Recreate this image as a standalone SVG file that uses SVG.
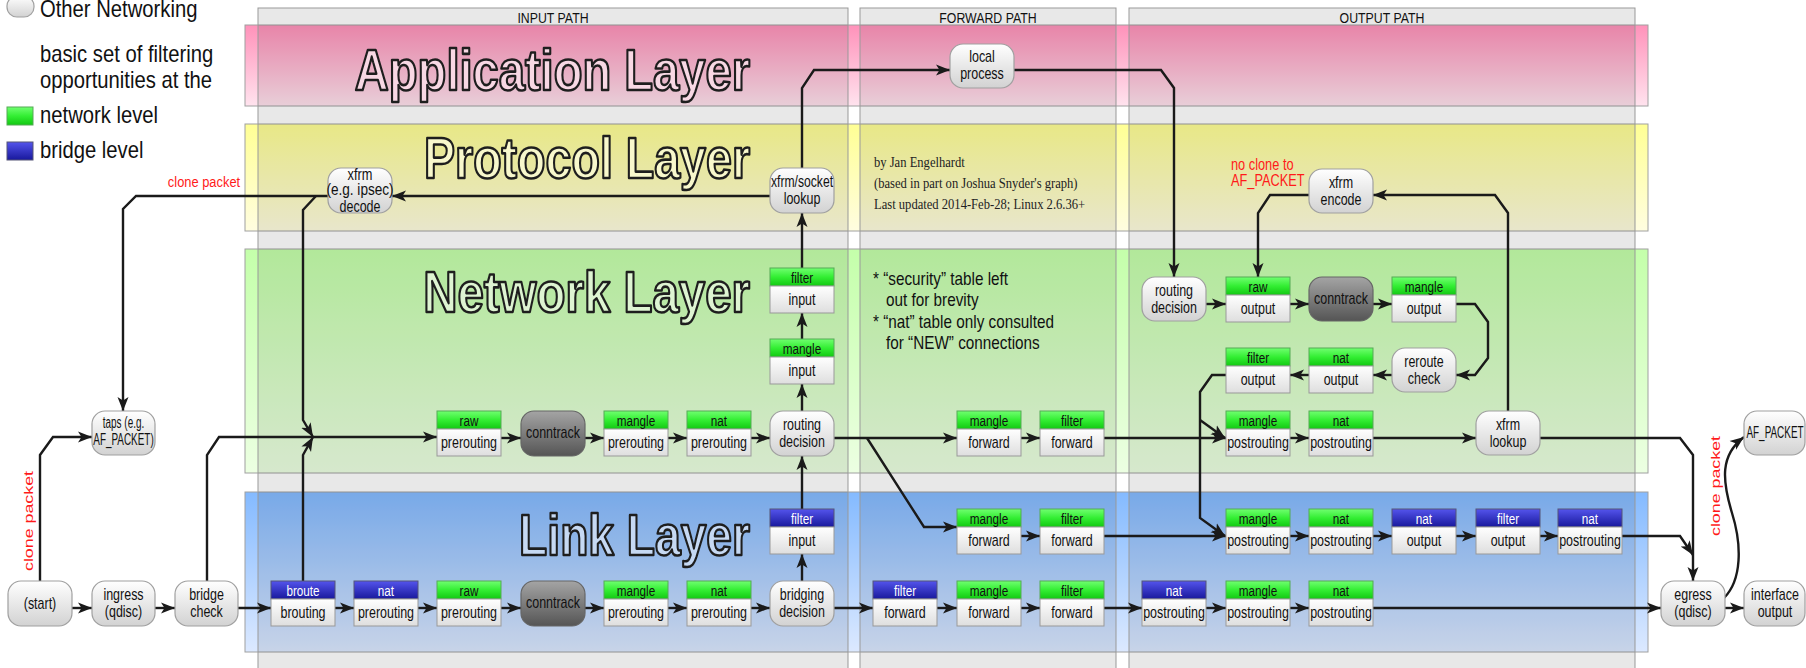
<svg xmlns="http://www.w3.org/2000/svg" width="1806" height="668" viewBox="0 0 1806 668">
<defs>
<linearGradient id="gApp" x1="0" y1="0" x2="0" y2="1"><stop offset="0" stop-color="#ff92ba"/><stop offset="1" stop-color="#ffe3ee"/></linearGradient>
<linearGradient id="gPro" x1="0" y1="0" x2="0" y2="1"><stop offset="0" stop-color="#ffff94"/><stop offset="1" stop-color="#fffde0"/></linearGradient>
<linearGradient id="gNet" x1="0" y1="0" x2="0" y2="1"><stop offset="0" stop-color="#c4ffaa"/><stop offset="1" stop-color="#ecffe2"/></linearGradient>
<linearGradient id="gLnk" x1="0" y1="0" x2="0" y2="1"><stop offset="0" stop-color="#84baff"/><stop offset="1" stop-color="#dce9ff"/></linearGradient>
<linearGradient id="gG" x1="0" y1="0" x2="0" y2="1"><stop offset="0" stop-color="#70ff70"/><stop offset="0.5" stop-color="#33ee33"/><stop offset="1" stop-color="#12c812"/></linearGradient>
<linearGradient id="gB" x1="0" y1="0" x2="0" y2="1"><stop offset="0" stop-color="#5454ec"/><stop offset="1" stop-color="#18189c"/></linearGradient>
<linearGradient id="gW" x1="0" y1="0" x2="0" y2="1"><stop offset="0" stop-color="#ffffff"/><stop offset="1" stop-color="#dedede"/></linearGradient>
<linearGradient id="gR" x1="0" y1="0" x2="0" y2="1"><stop offset="0" stop-color="#ffffff"/><stop offset="1" stop-color="#d2d2d2"/></linearGradient>
<linearGradient id="gC" x1="0" y1="0" x2="0" y2="1"><stop offset="0" stop-color="#a4a4a4"/><stop offset="1" stop-color="#555555"/></linearGradient>
<marker id="ah" markerUnits="userSpaceOnUse" markerWidth="15" markerHeight="12" refX="14" refY="6" orient="auto"><path d="M0,0.5 L14,6 L0,11.5 L3.5,6 z" fill="#1a1a1a"/></marker>
</defs>
<style>
text{font-family:"Liberation Sans",Arial,sans-serif}
.n{font-size:16px;fill:#111;text-anchor:middle}
.h{font-size:15px;fill:#111;text-anchor:middle}
.hw{font-size:15px;fill:#fff;text-anchor:middle}
.hg{fill:url(#gG);stroke:#5a5;stroke-width:1}
.hb{fill:url(#gB);stroke:#557;stroke-width:1}
.bd{fill:url(#gW);stroke:#999;stroke-width:1}
.rn{fill:url(#gR);stroke:#a0a0a0;stroke-width:1.2}
.ct{fill:url(#gC);stroke:#666;stroke-width:1.2}
.ln{fill:none;stroke:#1a1a1a;stroke-width:2.4;stroke-linejoin:miter;marker-end:url(#ah)}
.col{fill:#000;fill-opacity:.09;stroke:#999;stroke-width:1}
.lay{stroke:#a0a0a0;stroke-width:1}
.ttl{font-weight:bold;font-size:58px;stroke:#1e1e1e;stroke-width:2.6;stroke-linejoin:round;text-anchor:end}
.red{fill:#ff1a1a}
.leg{font-size:23px;fill:#111}
.hd{font-size:14px;fill:#111;text-anchor:middle}
.note{font-size:18px;fill:#111}
.cr{font-family:"Liberation Serif","Times New Roman",serif;font-size:14px;fill:#222}
</style>

<!-- layers -->
<g id="layers">
<rect class="lay" x="245" y="25" width="1403" height="81" fill="url(#gApp)"/>
<rect class="lay" x="245" y="124" width="1403" height="107" fill="url(#gPro)"/>
<rect class="lay" x="245" y="249" width="1403" height="224" fill="url(#gNet)"/>
<rect class="lay" x="245" y="492" width="1403" height="160" fill="url(#gLnk)"/>
</g>
<!-- path columns -->
<g id="columns">
<rect class="col" x="258" y="8" width="590" height="670"/>
<rect class="col" x="860" y="8" width="256" height="670"/>
<rect class="col" x="1129" y="8" width="506" height="670"/>
<text class="hd" transform="translate(553,22.5) scale(.88,1)">INPUT PATH</text>
<text class="hd" transform="translate(988,22.5) scale(.88,1)">FORWARD PATH</text>
<text class="hd" transform="translate(1382,22.5) scale(.88,1)">OUTPUT PATH</text>
</g>
<!-- layer titles -->
<g id="titles">
<text class="ttl" transform="translate(750,90) scale(.812,1)" fill="#f8d8e4">Application Layer</text>
<text class="ttl" transform="translate(750,178) scale(.803,1)" fill="#f8f8cc">Protocol Layer</text>
<text class="ttl" transform="translate(750,312) scale(.818,1)" fill="#def4d2">Network Layer</text>
<text class="ttl" transform="translate(750,555) scale(.796,1)" fill="#c6d9f3">Link Layer</text>
</g>
<!-- legend -->
<g id="legend">
<rect class="rn" x="7" y="-4" width="27" height="21" rx="10"/>
<text class="leg" transform="translate(40,17) scale(.88,1)">Other Networking</text>
<text class="leg" transform="translate(40,62) scale(.88,1)">basic set of filtering</text>
<text class="leg" transform="translate(40,88) scale(.88,1)">opportunities at the</text>
<rect class="hg" x="7" y="107" width="26" height="18"/>
<text class="leg" transform="translate(40,123) scale(.88,1)">network level</text>
<rect class="hb" x="7" y="142" width="26" height="18"/>
<text class="leg" transform="translate(40,158) scale(.88,1)">bridge level</text>
</g>
<!-- notes -->
<g id="notes">
<text class="cr" transform="translate(874,167) scale(.9,1)">by Jan Engelhardt</text>
<text class="cr" transform="translate(874,188) scale(.9,1)">(based in part on Joshua Snyder's graph)</text>
<text class="cr" transform="translate(874,209) scale(.9,1)">Last updated 2014-Feb-28; Linux 2.6.36+</text>
<text class="note" transform="translate(873,285) scale(.85,1)">* “security” table left</text>
<text class="note" transform="translate(886,306) scale(.85,1)">out for brevity</text>
<text class="note" transform="translate(873,328) scale(.85,1)">* “nat” table only consulted</text>
<text class="note" transform="translate(886,349) scale(.85,1)">for “NEW” connections</text>
<text class="red" font-size="15" text-anchor="middle" transform="translate(204,187) scale(.86,1)">clone packet</text>
<text class="red" font-size="16" transform="translate(1231,170) scale(.8,1)">no clone to</text>
<text class="red" font-size="16" transform="translate(1231,186) scale(.8,1)">AF_PACKET</text>
<text class="red" font-size="12.5" text-anchor="middle" textLength="100" lengthAdjust="spacingAndGlyphs" transform="translate(33,521) rotate(-90)">clone packet</text>
<text class="red" font-size="12.5" text-anchor="middle" textLength="100" lengthAdjust="spacingAndGlyphs" transform="translate(1720,486) rotate(-90)">clone packet</text>
</g>

<!-- connectors -->
<g id="connectors">
<path class="ln" d="M72,608 H92"/>
<path class="ln" d="M155,608 H175"/>
<path class="ln" d="M238,608 H271"/>
<path class="ln" d="M335,608 H354"/>
<path class="ln" d="M418,608 H437"/>
<path class="ln" d="M501,608 H521"/>
<path class="ln" d="M585,608 H604"/>
<path class="ln" d="M668,608 H687"/>
<path class="ln" d="M751,608 H770"/>
<path class="ln" d="M834,608 H873"/>
<path class="ln" d="M937,608 H957"/>
<path class="ln" d="M1021,608 H1040"/>
<path class="ln" d="M1104,608 H1142"/>
<path class="ln" d="M1206,608 H1226"/>
<path class="ln" d="M1290,608 H1309"/>
<path class="ln" d="M1373,608 H1661"/>
<path class="ln" d="M1725,608 H1744"/>
<path class="ln" d="M1724,598 C1742,580 1742,545 1732,513 C1722,480 1720,455 1744,437"/>
<path class="ln" d="M40,581 V455 L53,437 H92"/>
<path class="ln" d="M328,196 H136 L123,209 V411"/>
<path class="ln" d="M316,196 L303,210 V420 L313,437"/>
<path class="ln" d="M303,581 V455 L313,437"/>
<path class="ln" d="M207,581 V455 L219,437 H437"/>
<path class="ln" d="M501,438 H521"/>
<path class="ln" d="M585,438 H604"/>
<path class="ln" d="M668,438 H687"/>
<path class="ln" d="M751,438 H770"/>
<path class="ln" d="M834,438 H957"/>
<path class="ln" d="M867,438 L924,527 H957"/>
<path class="ln" d="M1021,438 H1040"/>
<path class="ln" d="M1021,536 H1040"/>
<path class="ln" d="M1104,438 H1226"/>
<path class="ln" d="M1104,536 H1226"/>
<path class="ln" d="M1290,438 H1309"/>
<path class="ln" d="M1373,438 H1476"/>
<path class="ln" d="M1540,438 H1680 L1693,455 V581"/>
<path class="ln" d="M1508,411 V213 L1495,195 H1373"/>
<path class="ln" d="M1309,195 H1270 L1258,213 V277"/>
<path class="ln" d="M1290,536 H1309"/>
<path class="ln" d="M1373,536 H1392"/>
<path class="ln" d="M1456,536 H1476"/>
<path class="ln" d="M1540,536 H1558"/>
<path class="ln" d="M1622,536 H1680 L1693,555"/>
<path class="ln" d="M1206,304 H1226"/>
<path class="ln" d="M1290,304 H1309"/>
<path class="ln" d="M1373,304 H1392"/>
<path class="ln" d="M1456,304 H1475 L1488,322 V358 L1475,375 H1456"/>
<path class="ln" d="M1392,375 H1373"/>
<path class="ln" d="M1309,375 H1290"/>
<path class="ln" d="M1226,375 H1212 L1200,392 V518 L1225,536"/>
<path class="ln" d="M1200,420 L1225,438"/>
<path class="ln" d="M802,168 V88 L814,70 H950"/>
<path class="ln" d="M1014,70 H1161 L1174,88 V277"/>
<path class="ln" d="M770,196 H392"/>
<path class="ln" d="M802,581 V554"/>
<path class="ln" d="M802,509 V456"/>
<path class="ln" d="M802,411 V384"/>
<path class="ln" d="M802,339 V313"/>
<path class="ln" d="M802,268 V213"/>
</g>

<!-- rounded "other networking" nodes -->
<g id="start"><rect class="rn" x="8" y="581" width="64" height="45" rx="13"/><text class="n" transform="translate(40,609) scale(.78,1)">(start)</text></g>
<g id="ingress"><rect class="rn" x="92" y="581" width="63" height="45" rx="13"/><text class="n" transform="translate(123.5,600) scale(.78,1)">ingress</text><text class="n" transform="translate(123.5,617) scale(.78,1)">(qdisc)</text></g>
<g id="bridge-check"><rect class="rn" x="175" y="581" width="63" height="45" rx="13"/><text class="n" transform="translate(206.5,600) scale(.78,1)">bridge</text><text class="n" transform="translate(206.5,617) scale(.78,1)">check</text></g>
<g id="taps"><rect class="rn" x="92" y="411" width="63" height="44" rx="13"/><text class="n" font-size="14" transform="translate(123.5,428) scale(.62,1)">taps (e.g.</text><text class="n" font-size="14" transform="translate(123.5,445) scale(.62,1)">AF_PACKET)</text></g>
<g id="xfrm-decode"><rect class="rn" x="328" y="168" width="64" height="45" rx="13"/><text class="n" font-size="15" transform="translate(360,180) scale(.8,1)">xfrm</text><text class="n" font-size="7.5" transform="translate(360,195) scale(.85,1)">(e.g. ipsec)</text><text class="n" transform="translate(360,211.5) scale(.78,1)">decode</text></g>
<g id="xfrm-socket-lookup"><rect class="rn" x="770" y="168" width="64" height="45" rx="13"/><text class="n" transform="translate(802,187) scale(.76,1)">xfrm/socket</text><text class="n" transform="translate(802,204) scale(.78,1)">lookup</text></g>
<g id="local-process"><rect class="rn" x="950" y="44" width="64" height="44" rx="13"/><text class="n" transform="translate(982,62) scale(.78,1)">local</text><text class="n" transform="translate(982,79) scale(.78,1)">process</text></g>
<g id="routing-decision-in"><rect class="rn" x="770" y="411" width="64" height="45" rx="13"/><text class="n" transform="translate(802,430) scale(.78,1)">routing</text><text class="n" transform="translate(802,447) scale(.78,1)">decision</text></g>
<g id="bridging-decision"><rect class="rn" x="770" y="581" width="64" height="45" rx="13"/><text class="n" transform="translate(802,600) scale(.78,1)">bridging</text><text class="n" transform="translate(802,617) scale(.78,1)">decision</text></g>
<g id="routing-decision-out"><rect class="rn" x="1142" y="277" width="64" height="44" rx="13"/><text class="n" transform="translate(1174,296) scale(.78,1)">routing</text><text class="n" transform="translate(1174,313) scale(.78,1)">decision</text></g>
<g id="reroute-check"><rect class="rn" x="1392" y="348" width="64" height="44" rx="13"/><text class="n" transform="translate(1424,367) scale(.78,1)">reroute</text><text class="n" transform="translate(1424,384) scale(.78,1)">check</text></g>
<g id="xfrm-encode"><rect class="rn" x="1309" y="169" width="64" height="44" rx="13"/><text class="n" transform="translate(1341,188) scale(.78,1)">xfrm</text><text class="n" transform="translate(1341,205) scale(.78,1)">encode</text></g>
<g id="xfrm-lookup"><rect class="rn" x="1476" y="411" width="64" height="44" rx="13"/><text class="n" transform="translate(1508,430) scale(.78,1)">xfrm</text><text class="n" transform="translate(1508,447) scale(.78,1)">lookup</text></g>
<g id="egress"><rect class="rn" x="1661" y="581" width="64" height="45" rx="13"/><text class="n" transform="translate(1693,600) scale(.78,1)">egress</text><text class="n" transform="translate(1693,617) scale(.78,1)">(qdisc)</text></g>
<g id="interface-output"><rect class="rn" x="1744" y="581" width="61" height="45" rx="13"/><text class="n" transform="translate(1775,600) scale(.78,1)">interface</text><text class="n" transform="translate(1775,617) scale(.78,1)">output</text></g>
<g id="af-packet"><rect class="rn" x="1744" y="411" width="61" height="44" rx="13"/><text class="n" font-size="15" transform="translate(1775,438) scale(.62,1)">AF_PACKET</text></g>
<g id="conntrack-net"><rect class="ct" x="521" y="411" width="64" height="45" rx="13"/><text class="n" transform="translate(553,438) scale(.78,1)">conntrack</text></g>
<g id="conntrack-link"><rect class="ct" x="521" y="581" width="64" height="45" rx="13"/><text class="n" transform="translate(553,608) scale(.78,1)">conntrack</text></g>
<g id="conntrack-out"><rect class="ct" x="1309" y="277" width="64" height="44" rx="13"/><text class="n" transform="translate(1341,304) scale(.78,1)">conntrack</text></g>

<!-- table / chain nodes: input path, network layer -->
<g id="raw-prerouting-net"><rect class="hg" x="437" y="411" width="64" height="18"/><rect class="bd" x="437" y="429" width="64" height="27"/><text class="h" transform="translate(469,426) scale(.78,1)">raw</text><text class="n" transform="translate(469,448) scale(.78,1)">prerouting</text></g>
<g id="mangle-prerouting-net"><rect class="hg" x="604" y="411" width="64" height="18"/><rect class="bd" x="604" y="429" width="64" height="27"/><text class="h" transform="translate(636,426) scale(.78,1)">mangle</text><text class="n" transform="translate(636,448) scale(.78,1)">prerouting</text></g>
<g id="nat-prerouting-net"><rect class="hg" x="687" y="411" width="64" height="18"/><rect class="bd" x="687" y="429" width="64" height="27"/><text class="h" transform="translate(719,426) scale(.78,1)">nat</text><text class="n" transform="translate(719,448) scale(.78,1)">prerouting</text></g>
<g id="filter-input-net"><rect class="hg" x="770" y="268" width="64" height="18"/><rect class="bd" x="770" y="286" width="64" height="27"/><text class="h" transform="translate(802,283) scale(.78,1)">filter</text><text class="n" transform="translate(802,305) scale(.78,1)">input</text></g>
<g id="mangle-input-net"><rect class="hg" x="770" y="339" width="64" height="18"/><rect class="bd" x="770" y="357" width="64" height="27"/><text class="h" transform="translate(802,354) scale(.78,1)">mangle</text><text class="n" transform="translate(802,376) scale(.78,1)">input</text></g>
<!-- input path, link layer -->
<g id="broute-brouting"><rect class="hb" x="271" y="581" width="64" height="18"/><rect class="bd" x="271" y="599" width="64" height="27"/><text class="hw" transform="translate(303,596) scale(.78,1)">broute</text><text class="n" transform="translate(303,618) scale(.78,1)">brouting</text></g>
<g id="nat-prerouting-br"><rect class="hb" x="354" y="581" width="64" height="18"/><rect class="bd" x="354" y="599" width="64" height="27"/><text class="hw" transform="translate(386,596) scale(.78,1)">nat</text><text class="n" transform="translate(386,618) scale(.78,1)">prerouting</text></g>
<g id="raw-prerouting-link"><rect class="hg" x="437" y="581" width="64" height="18"/><rect class="bd" x="437" y="599" width="64" height="27"/><text class="h" transform="translate(469,596) scale(.78,1)">raw</text><text class="n" transform="translate(469,618) scale(.78,1)">prerouting</text></g>
<g id="mangle-prerouting-link"><rect class="hg" x="604" y="581" width="64" height="18"/><rect class="bd" x="604" y="599" width="64" height="27"/><text class="h" transform="translate(636,596) scale(.78,1)">mangle</text><text class="n" transform="translate(636,618) scale(.78,1)">prerouting</text></g>
<g id="nat-prerouting-link"><rect class="hg" x="687" y="581" width="64" height="18"/><rect class="bd" x="687" y="599" width="64" height="27"/><text class="h" transform="translate(719,596) scale(.78,1)">nat</text><text class="n" transform="translate(719,618) scale(.78,1)">prerouting</text></g>
<g id="filter-input-br"><rect class="hb" x="770" y="509" width="64" height="18"/><rect class="bd" x="770" y="527" width="64" height="27"/><text class="hw" transform="translate(802,524) scale(.78,1)">filter</text><text class="n" transform="translate(802,546) scale(.78,1)">input</text></g>
<!-- forward path -->
<g id="mangle-forward-net"><rect class="hg" x="957" y="411" width="64" height="18"/><rect class="bd" x="957" y="429" width="64" height="27"/><text class="h" transform="translate(989,426) scale(.78,1)">mangle</text><text class="n" transform="translate(989,448) scale(.78,1)">forward</text></g>
<g id="filter-forward-net"><rect class="hg" x="1040" y="411" width="64" height="18"/><rect class="bd" x="1040" y="429" width="64" height="27"/><text class="h" transform="translate(1072,426) scale(.78,1)">filter</text><text class="n" transform="translate(1072,448) scale(.78,1)">forward</text></g>
<g id="mangle-forward-link1"><rect class="hg" x="957" y="509" width="64" height="18"/><rect class="bd" x="957" y="527" width="64" height="27"/><text class="h" transform="translate(989,524) scale(.78,1)">mangle</text><text class="n" transform="translate(989,546) scale(.78,1)">forward</text></g>
<g id="filter-forward-link1"><rect class="hg" x="1040" y="509" width="64" height="18"/><rect class="bd" x="1040" y="527" width="64" height="27"/><text class="h" transform="translate(1072,524) scale(.78,1)">filter</text><text class="n" transform="translate(1072,546) scale(.78,1)">forward</text></g>
<g id="filter-forward-br"><rect class="hb" x="873" y="581" width="64" height="18"/><rect class="bd" x="873" y="599" width="64" height="27"/><text class="hw" transform="translate(905,596) scale(.78,1)">filter</text><text class="n" transform="translate(905,618) scale(.78,1)">forward</text></g>
<g id="mangle-forward-link2"><rect class="hg" x="957" y="581" width="64" height="18"/><rect class="bd" x="957" y="599" width="64" height="27"/><text class="h" transform="translate(989,596) scale(.78,1)">mangle</text><text class="n" transform="translate(989,618) scale(.78,1)">forward</text></g>
<g id="filter-forward-link2"><rect class="hg" x="1040" y="581" width="64" height="18"/><rect class="bd" x="1040" y="599" width="64" height="27"/><text class="h" transform="translate(1072,596) scale(.78,1)">filter</text><text class="n" transform="translate(1072,618) scale(.78,1)">forward</text></g>
<!-- output path, network layer -->
<g id="raw-output"><rect class="hg" x="1226" y="277" width="64" height="18"/><rect class="bd" x="1226" y="295" width="64" height="27"/><text class="h" transform="translate(1258,292) scale(.78,1)">raw</text><text class="n" transform="translate(1258,314) scale(.78,1)">output</text></g>
<g id="mangle-output"><rect class="hg" x="1392" y="277" width="64" height="18"/><rect class="bd" x="1392" y="295" width="64" height="27"/><text class="h" transform="translate(1424,292) scale(.78,1)">mangle</text><text class="n" transform="translate(1424,314) scale(.78,1)">output</text></g>
<g id="filter-output"><rect class="hg" x="1226" y="348" width="64" height="18"/><rect class="bd" x="1226" y="366" width="64" height="27"/><text class="h" transform="translate(1258,363) scale(.78,1)">filter</text><text class="n" transform="translate(1258,385) scale(.78,1)">output</text></g>
<g id="nat-output"><rect class="hg" x="1309" y="348" width="64" height="18"/><rect class="bd" x="1309" y="366" width="64" height="27"/><text class="h" transform="translate(1341,363) scale(.78,1)">nat</text><text class="n" transform="translate(1341,385) scale(.78,1)">output</text></g>
<g id="mangle-postrouting-net"><rect class="hg" x="1226" y="411" width="64" height="18"/><rect class="bd" x="1226" y="429" width="64" height="27"/><text class="h" transform="translate(1258,426) scale(.78,1)">mangle</text><text class="n" transform="translate(1258,448) scale(.78,1)">postrouting</text></g>
<g id="nat-postrouting-net"><rect class="hg" x="1309" y="411" width="64" height="18"/><rect class="bd" x="1309" y="429" width="64" height="27"/><text class="h" transform="translate(1341,426) scale(.78,1)">nat</text><text class="n" transform="translate(1341,448) scale(.78,1)">postrouting</text></g>
<!-- output path, link layer upper -->
<g id="mangle-postrouting-link1"><rect class="hg" x="1226" y="509" width="64" height="18"/><rect class="bd" x="1226" y="527" width="64" height="27"/><text class="h" transform="translate(1258,524) scale(.78,1)">mangle</text><text class="n" transform="translate(1258,546) scale(.78,1)">postrouting</text></g>
<g id="nat-postrouting-link1"><rect class="hg" x="1309" y="509" width="64" height="18"/><rect class="bd" x="1309" y="527" width="64" height="27"/><text class="h" transform="translate(1341,524) scale(.78,1)">nat</text><text class="n" transform="translate(1341,546) scale(.78,1)">postrouting</text></g>
<g id="nat-output-br"><rect class="hb" x="1392" y="509" width="64" height="18"/><rect class="bd" x="1392" y="527" width="64" height="27"/><text class="hw" transform="translate(1424,524) scale(.78,1)">nat</text><text class="n" transform="translate(1424,546) scale(.78,1)">output</text></g>
<g id="filter-output-br"><rect class="hb" x="1476" y="509" width="64" height="18"/><rect class="bd" x="1476" y="527" width="64" height="27"/><text class="hw" transform="translate(1508,524) scale(.78,1)">filter</text><text class="n" transform="translate(1508,546) scale(.78,1)">output</text></g>
<g id="nat-postrouting-br1"><rect class="hb" x="1558" y="509" width="64" height="18"/><rect class="bd" x="1558" y="527" width="64" height="27"/><text class="hw" transform="translate(1590,524) scale(.78,1)">nat</text><text class="n" transform="translate(1590,546) scale(.78,1)">postrouting</text></g>
<!-- output path, link layer lower -->
<g id="nat-postrouting-br2"><rect class="hb" x="1142" y="581" width="64" height="18"/><rect class="bd" x="1142" y="599" width="64" height="27"/><text class="hw" transform="translate(1174,596) scale(.78,1)">nat</text><text class="n" transform="translate(1174,618) scale(.78,1)">postrouting</text></g>
<g id="mangle-postrouting-link2"><rect class="hg" x="1226" y="581" width="64" height="18"/><rect class="bd" x="1226" y="599" width="64" height="27"/><text class="h" transform="translate(1258,596) scale(.78,1)">mangle</text><text class="n" transform="translate(1258,618) scale(.78,1)">postrouting</text></g>
<g id="nat-postrouting-link2"><rect class="hg" x="1309" y="581" width="64" height="18"/><rect class="bd" x="1309" y="599" width="64" height="27"/><text class="h" transform="translate(1341,596) scale(.78,1)">nat</text><text class="n" transform="translate(1341,618) scale(.78,1)">postrouting</text></g>
</svg>
